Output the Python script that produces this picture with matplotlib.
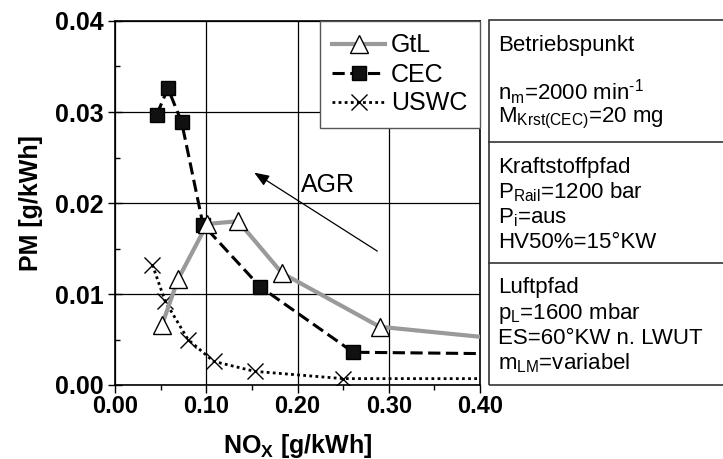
import matplotlib
matplotlib.use("Agg")
import matplotlib.pyplot as plt
from matplotlib.ticker import MultipleLocator, FormatStrFormatter
from matplotlib.patches import Rectangle
from matplotlib.lines import Line2D

plt.rcParams['font.family'] = ['Liberation Sans', 'DejaVu Sans']
plt.rcParams['mathtext.fontset'] = 'custom'
plt.rcParams['mathtext.rm'] = 'Liberation Sans'
plt.rcParams['mathtext.bf'] = 'Liberation Sans:bold'

# Data
gtl_x = [0.0515, 0.069, 0.101, 0.135, 0.183, 0.290, 0.45]
gtl_y = [0.0066, 0.0116, 0.0177, 0.0180, 0.0123, 0.0064, 0.0048]
cec_x = [0.0457, 0.058, 0.073, 0.0965, 0.159, 0.261, 0.45]
cec_y = [0.0297, 0.0326, 0.0289, 0.0176, 0.0108, 0.0036, 0.0034]
uswc_x = [0.041, 0.055, 0.080, 0.108, 0.153, 0.250, 0.45]
uswc_y = [0.0132, 0.0092, 0.0050, 0.0026, 0.0015, 0.0007, 0.0007]

x_ticks = [0.00, 0.10, 0.20, 0.30, 0.40]
y_ticks = [0.00, 0.01, 0.02, 0.03, 0.04]

info_blocks = [
    ["Betriebspunkt", "", r"n$_\mathregular{m}$=2000 min$^\mathregular{‐1}$",
     r"M$_\mathregular{Krst(CEC)}$=20 mg"],
    ["Kraftstoffpfad", r"P$_\mathregular{Rail}$=1200 bar", r"P$_\mathregular{i}$=aus",
     "HV50%=15°KW"],
    ["Luftpfad", r"p$_\mathregular{L}$=1600 mbar", "ES=60°KW n. LWUT",
     r"m$_\mathregular{LM}$=variabel"],
]

W, H = 723, 459
fig = plt.figure(figsize=(W / 100, H / 100), dpi=100)
ax = fig.add_axes([115 / W, 1 - 385 / H, (480 - 115) / W, (385 - 21) / H])

ax.plot(gtl_x, gtl_y, color='#9a9a9a', lw=3, marker='^',
        markersize=13, markerfacecolor='white', markeredgecolor='black',
        markeredgewidth=1, markevery=list(range(len(gtl_x) - 1)), label='GtL', zorder=4)
ax.plot(cec_x, cec_y, color='black', lw=2.2, dashes=(4, 1.8), marker='s',
        markersize=9.5, markerfacecolor='#111111', markeredgecolor='black',
        markevery=list(range(len(cec_x) - 1)), label='CEC', zorder=3)
ax.plot(uswc_x, uswc_y, color='black', lw=2, linestyle=(0, (1, 1.2)), marker='x',
        markersize=11, markeredgewidth=1, markevery=list(range(len(uswc_x) - 1)),
        label='USWC', zorder=3)

ax.set_xlim(0, 0.40)
ax.set_ylim(0, 0.04)
ax.set_xticks(x_ticks)
ax.set_yticks(y_ticks)
ax.xaxis.set_minor_locator(MultipleLocator(0.05))
ax.yaxis.set_minor_locator(MultipleLocator(0.005))
ax.xaxis.set_major_formatter(FormatStrFormatter('%.2f'))
ax.yaxis.set_major_formatter(FormatStrFormatter('%.2f'))
ax.grid(True, which='major', color='black', lw=0.9, zorder=0)
ax.tick_params(axis='x', which='major', direction='out', length=5.8, width=1,
               labelsize=17, pad=1.5)
ax.tick_params(axis='x', which='minor', direction='out', length=3.6, width=1)
ax.tick_params(axis='y', which='major', direction='inout', length=10, width=1,
               labelsize=18, pad=3)
ax.tick_params(axis='y', which='minor', direction='in', length=3.6, width=1)
for lab in ax.get_xticklabels() + ax.get_yticklabels():
    lab.set_fontweight('bold')
for s in ax.spines.values():
    s.set_linewidth(1.2)

ax.set_xlabel(r'NO$_\mathbf{X}$ [g/kWh]', fontsize=18, fontweight='bold', labelpad=10)
ax.set_ylabel('PM [g/kWh]', fontsize=18, fontweight='bold', labelpad=9)

leg = ax.legend(loc='upper right', borderaxespad=0, fontsize=18, handlelength=2.1,
                handletextpad=0.25, labelspacing=0.2, borderpad=0.5,
                fancybox=False, framealpha=1, edgecolor='#555555')
leg.get_frame().set_linewidth(1)
leg.set_zorder(10)

ax.annotate('', xy=(0.150, 0.0235), xytext=(0.290, 0.01455),
            arrowprops=dict(arrowstyle='-|>,head_length=0.9,head_width=0.35',
                            color='black', lw=0.9), zorder=5)
ax.text(0.204, 0.0220, 'AGR', fontsize=18, ha='left', va='center', zorder=5)

# Info table
x0 = 489 / W
top = 1 - 20 / H
bottom = 1 - 385 / H
fig.patches.append(Rectangle((x0, bottom), 1.0 - x0 + 0.01, top - bottom,
                             transform=fig.transFigure, fill=False,
                             edgecolor='#333333', lw=1.2))
for yd in (142, 263):
    fig.add_artist(Line2D([x0, 1.01], [1 - yd / H, 1 - yd / H],
                          transform=fig.transFigure, color='#333333', lw=1.2))

line_y = [[45, 70, 92, 118], [167, 192, 218, 243], [288, 313, 338, 363]]
for block, ys in zip(info_blocks, line_y):
    for txt, yp in zip(block, ys):
        if txt:
            fig.text(498 / W, 1 - yp / H, txt, fontsize=16, ha='left', va='center')

fig.savefig('out.png', dpi=100)
